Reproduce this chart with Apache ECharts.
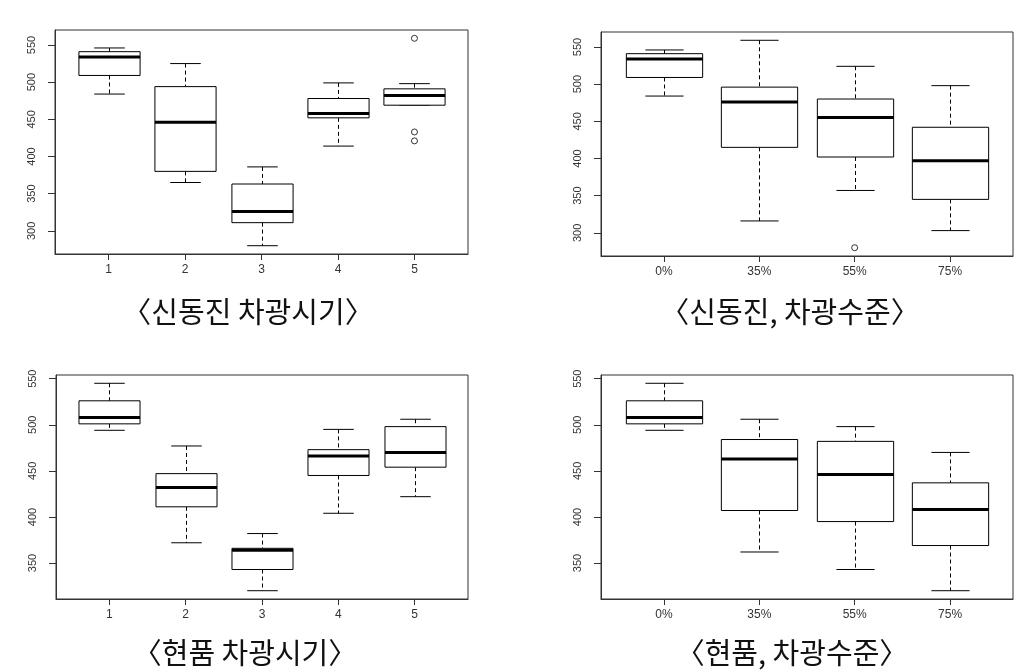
<!DOCTYPE html>
<html>
<head>
<meta charset="utf-8">
<script src="https://cdn.jsdelivr.net/npm/echarts@6/dist/echarts.min.js"></script>
<style>
  html, body { margin: 0; padding: 0; background: #fff; }
  #chart { width: 1036px; height: 672px; }
</style>
</head>
<body>
<div id="chart"></div>
<script>
// ---------- data ----------
const timingCategories = ['1', '2', '3', '4', '5'];
const levelCategories = ['0%', '35%', '55%', '75%'];

// five-number summaries: [lower whisker, Q1, median, Q3, upper whisker]
const sdTimingStats = [
  [484, 509, 534, 541, 546],
  [365, 380, 446, 494, 525],
  [280, 311, 326, 363, 386],
  [414, 452, 458, 478, 499],
  [469, 469, 482, 491, 498]
];
const sdTimingOutliers = [['5', 559], ['5', 433], ['5', 421]];

const sdLevelStats = [
  [484, 509, 534, 541, 546],
  [316, 415, 476, 496, 559],
  [357, 402, 455, 480, 524],
  [303, 345, 397, 442, 498]
];
const sdLevelOutliers = [['55%', 280]];

const hpTimingStats = [
  [494, 501, 508, 526, 545],
  [372, 411, 432, 447, 477],
  [320, 343, 364, 366, 382],
  [404, 445, 466, 473, 495],
  [422, 454, 470, 498, 506]
];
const hpTimingOutliers = [];

const hpLevelStats = [
  [494, 501, 508, 526, 545],
  [362, 407, 463, 484, 506],
  [343, 395, 446, 482, 498],
  [320, 369, 408, 437, 470]
];
const hpLevelOutliers = [];

const topTicks = [300, 350, 400, 450, 500, 550];
const bottomTicks = [350, 400, 450, 500, 550];

const panelTitles = ['〈신동진 차광시기〉', '〈신동진, 차광수준〉', '〈현품 차광시기〉', '〈현품, 차광수준〉'];

// ---------- chart ----------
const panels = [
  { cats: timingCategories, stats: sdTimingStats, outliers: sdTimingOutliers, ticks: topTicks,
    grid: { left: 55, top: 30, width: 413, height: 224 }, title: { x: 248, y: 297 } },
  { cats: levelCategories, stats: sdLevelStats, outliers: sdLevelOutliers, ticks: topTicks,
    grid: { left: 601, top: 32, width: 412, height: 224 }, title: { x: 790, y: 297 } },
  { cats: timingCategories, stats: hpTimingStats, outliers: hpTimingOutliers, ticks: bottomTicks,
    grid: { left: 56, top: 375, width: 412, height: 224 }, title: { x: 245, y: 638 } },
  { cats: levelCategories, stats: hpLevelStats, outliers: hpLevelOutliers, ticks: bottomTicks,
    grid: { left: 601, top: 375, width: 412, height: 224 }, title: { x: 792, y: 638 } }
];

function renderBox(params, api) {
  const x = api.value(0);
  const lo = api.coord([x, api.value(1)]);
  const q1 = api.coord([x, api.value(2)]);
  const md = api.coord([x, api.value(3)]);
  const q3 = api.coord([x, api.value(4)]);
  const hi = api.coord([x, api.value(5)]);
  const bw = api.size([0.8, 0])[0];
  const cw = bw / 4;
  const cx = Math.round(q1[0]) + 0.5;
  const solid = { stroke: '#000', lineWidth: 1, fill: null };
  const dashed = { stroke: '#000', lineWidth: 1, lineDash: [4, 3], fill: null };
  const children = [
    { type: 'line', shape: { x1: cx, y1: hi[1], x2: cx, y2: q3[1] }, style: dashed },
    { type: 'line', shape: { x1: cx, y1: q1[1], x2: cx, y2: lo[1] }, style: dashed },
    { type: 'line', shape: { x1: cx - cw, y1: hi[1], x2: cx + cw, y2: hi[1] }, style: solid },
    { type: 'line', shape: { x1: cx - cw, y1: lo[1], x2: cx + cw, y2: lo[1] }, style: solid },
    { type: 'rect', shape: { x: cx - bw / 2, y: q3[1], width: bw, height: q1[1] - q3[1] },
      style: { fill: '#fff', stroke: '#000', lineWidth: 1 } },
    { type: 'line', shape: { x1: cx - bw / 2, y1: md[1], x2: cx + bw / 2, y2: md[1] },
      style: { stroke: '#000', lineWidth: 3 } }
  ];
  return { type: 'group', children };
}

const option = {
  animation: false,
  backgroundColor: '#fff',
  title: [],
  grid: [],
  xAxis: [],
  yAxis: [],
  series: []
};

panels.forEach((p, i) => {
  const n = p.cats.length;
  const allVals = [];
  p.stats.forEach(s => allVals.push(...s));
  p.outliers.forEach(o => allVals.push(o[1]));
  const dMin = Math.min(...allVals), dMax = Math.max(...allVals);
  const ext = (dMax - dMin) * 0.04;
  const xExt = n * 0.04;
  const positions = p.cats.map((c, k) => k + 1);

  option.title.push({
    text: panelTitles[i], left: p.title.x, top: p.title.y, textAlign: 'center', padding: 0,
    textStyle: { fontFamily: 'Noto Sans CJK KR', fontSize: 29, fontWeight: 'normal', color: '#111' }
  });
  option.grid.push(Object.assign({ show: true, borderColor: '#333', borderWidth: 1, backgroundColor: 'transparent' }, p.grid));
  option.xAxis.push({
    type: 'value', gridIndex: i, min: 0.5 - xExt, max: n + 0.5 + xExt,
    axisLine: { show: true, onZero: false, lineStyle: { color: '#333' } },
    axisTick: { show: true, length: 6, customValues: positions, lineStyle: { color: '#333' } },
    axisLabel: { customValues: positions, formatter: v => p.cats[Math.round(v) - 1] || '',
      fontFamily: 'Liberation Sans', fontSize: 12, color: '#333', margin: 10 },
    splitLine: { show: false }
  });
  option.yAxis.push({
    type: 'value', gridIndex: i, min: dMin - ext, max: dMax + ext,
    axisLine: { show: true, lineStyle: { color: '#333' } },
    axisTick: { show: true, length: 7, customValues: p.ticks, lineStyle: { color: '#333' } },
    axisLabel: { customValues: p.ticks, rotate: 90, fontFamily: 'Liberation Sans', fontSize: 11, color: '#333', margin: 18 },
    splitLine: { show: false }
  });
  option.series.push({
    type: 'custom', xAxisIndex: i, yAxisIndex: i,
    renderItem: renderBox,
    encode: { x: 0, y: [1, 2, 3, 4, 5] },
    data: p.stats.map((s, k) => [k + 1].concat(s))
  });
  if (p.outliers.length) {
    option.series.push({
      type: 'scatter', xAxisIndex: i, yAxisIndex: i,
      symbol: 'circle', symbolSize: 6, z: 5,
      itemStyle: { color: '#fff', borderColor: '#000', borderWidth: 1 },
      data: p.outliers.map(o => [p.cats.indexOf(o[0]) + 1, o[1]])
    });
  }
});

const chart = echarts.init(document.getElementById('chart'), null, { renderer: 'canvas' });
chart.setOption(option);
</script>
</body>
</html>
